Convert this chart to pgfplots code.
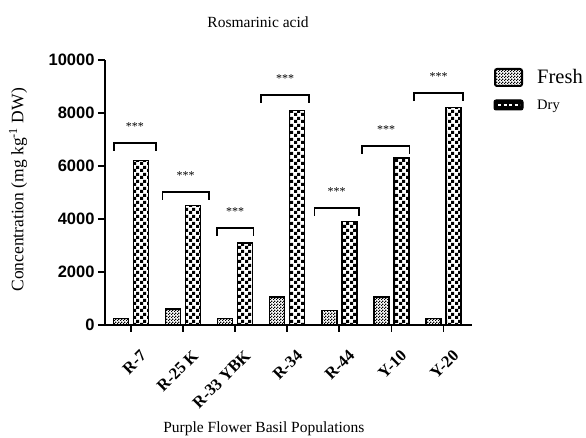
\documentclass[border=0pt]{standalone}
\usepackage{pgfplots}
\pgfplotsset{compat=1.18}
\usepackage{fontspec}
\setmainfont{Liberation Serif}
\setsansfont{Liberation Sans}
\usetikzlibrary{patterns}
\pgfdeclarepatternformonly{bigcheck}{\pgfqpoint{0pt}{0pt}}{\pgfqpoint{7pt}{7pt}}{\pgfqpoint{7pt}{7pt}}{%
  \pgfpathrectangle{\pgfqpoint{0pt}{0pt}}{\pgfqpoint{3.5pt}{3.5pt}}%
  \pgfpathrectangle{\pgfqpoint{3.5pt}{3.5pt}}{\pgfqpoint{3.5pt}{3.5pt}}%
  \pgfusepath{fill}}
\pgfdeclarepatternformonly{smallcheck}{\pgfqpoint{0pt}{0pt}}{\pgfqpoint{3pt}{3pt}}{\pgfqpoint{3pt}{3pt}}{%
  \pgfpathrectangle{\pgfqpoint{0pt}{0pt}}{\pgfqpoint{1.5pt}{1.5pt}}%
  \pgfpathrectangle{\pgfqpoint{1.5pt}{1.5pt}}{\pgfqpoint{1.5pt}{1.5pt}}%
  \pgfusepath{fill}}
\begin{document}
\begin{tikzpicture}
\useasboundingbox (0,0) rectangle (586pt,438pt);
\begin{axis}[
  at={(105pt,113pt)}, anchor=south west,
  scale only axis, width=367pt, height=265pt,
  xmin=-0.5, xmax=6.55, ymin=0, ymax=10000,
  axis lines=left, axis line style={line width=1.6pt, -},
  xtick={0,1,2,3,4,5,6},
  xticklabels={R-7,R-25 K,R-33 YBK,R-34,R-44,Y-10,Y-20},
  xticklabel style={rotate=45, anchor=north east, font=\fontsize{16.5}{18}\selectfont\bfseries, inner sep=1pt, yshift=-17pt, xshift=-5pt},
  ytick={0,2000,4000,6000,8000,10000},
  yticklabel style={font=\fontsize{16.5}{18}\selectfont\sffamily\bfseries},
  /pgf/number format/assume math mode=true,
  scaled y ticks=false,
  yticklabel={\pgfmathprintnumber[fixed,precision=0,1000 sep={}]{\tick}},
  major tick length=7pt, tick align=outside,
  tick style={line width=1.6pt, black},
  title={Rosmarinic acid},
  title style={at={(0.417,1.12)}, anchor=center, font=\fontsize{15.5}{17}\selectfont},
  xlabel={Purple Flower Basil Populations},
  xlabel style={at={(0.433,-0.392)}, anchor=center, font=\fontsize{15.5}{17}\selectfont},
  ylabel={Concentration (mg kg\textsuperscript{-1} DW)},
  ylabel style={at={(-0.237,0.51)}, anchor=center, rotate=0, font=\fontsize{17.5}{19}\selectfont},
  clip=false,
]
\addplot[ybar, bar width=15pt, bar shift=-10pt, draw=black, line width=1.5pt, pattern=smallcheck]
  coordinates {(0,250) (1,600) (2,250) (3,1050) (4,550) (5,1050) (6,250)};
\addplot[ybar, bar width=15pt, bar shift=10pt, draw=black, line width=1.5pt, pattern=bigcheck]
  coordinates {(0,6200) (1,4500) (2,3100) (3,8100) (4,3900) (5,6300) (6,8200)};
% significance brackets
\addplot[sharp plot, black, line width=1.5pt, forget plot] coordinates {(-0.33,6570) (-0.33,6870) (0.48,6870) (0.48,6570)};
\addplot[sharp plot, black, line width=1.5pt, forget plot] coordinates {(0.60,4720) (0.60,5020) (1.50,5020) (1.50,4720)};
\addplot[sharp plot, black, line width=1.5pt, forget plot] coordinates {(1.65,3360) (1.65,3660) (2.35,3660) (2.35,3360)};
\addplot[sharp plot, black, line width=1.5pt, forget plot] coordinates {(2.50,8380) (2.50,8680) (3.42,8680) (3.42,8380)};
\addplot[sharp plot, black, line width=1.5pt, forget plot] coordinates {(3.52,4115) (3.52,4415) (4.38,4415) (4.38,4115)};
\addplot[sharp plot, black, line width=1.5pt, forget plot] coordinates {(4.44,6455) (4.44,6755) (5.35,6755) (5.35,6455)};
\addplot[sharp plot, black, line width=1.5pt, forget plot] coordinates {(5.44,8450) (5.44,8750) (6.38,8750) (6.38,8450)};
\node[font=\fontsize{12}{14}\selectfont] at (axis cs:0.075,7500) {***};
\node[font=\fontsize{12}{14}\selectfont] at (axis cs:1.05,5650) {***};
\node[font=\fontsize{12}{14}\selectfont] at (axis cs:2.0,4290) {***};
\node[font=\fontsize{12}{14}\selectfont] at (axis cs:2.96,9310) {***};
\node[font=\fontsize{12}{14}\selectfont] at (axis cs:3.95,5045) {***};
\node[font=\fontsize{12}{14}\selectfont] at (axis cs:4.9,7385) {***};
\node[font=\fontsize{12}{14}\selectfont] at (axis cs:5.91,9380) {***};
\end{axis}
% legend
\draw[black, line width=2pt, pattern=smallcheck, rounded corners=2pt] (495pt,352pt) rectangle (522pt,369pt);
\node[anchor=base west, inner sep=0pt, font=\fontsize{20.5}{22}\selectfont] at (537pt,354pt) {Fresh};
\draw[black, line width=1pt, fill=black, rounded corners=2pt] (494pt,328pt) rectangle (523pt,338pt);
\draw[white, line width=1.3pt, dash pattern=on 3pt off 2.5pt] (498pt,333pt) -- (520pt,333pt);
\node[anchor=base west, inner sep=0pt, font=\fontsize{14.5}{16}\selectfont] at (537pt,328pt) {Dry};
\end{tikzpicture}
\end{document}
